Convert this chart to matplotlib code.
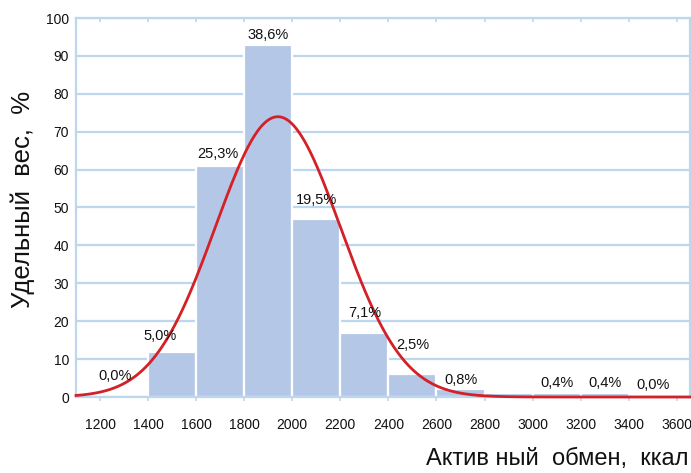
import numpy as np
import matplotlib
matplotlib.use("Agg")
import matplotlib.pyplot as plt

plt.rcParams['font.family'] = ['Liberation Sans', 'DejaVu Sans']

# Histogram of active metabolism (kcal): bin edges and counts per bin
bin_edges = [1200, 1400, 1600, 1800, 2000, 2200, 2400, 2600, 2800, 3000, 3200, 3400, 3600]
counts = [0, 12, 61, 93, 47, 17, 6, 2, 1, 1, 1, 0]
show_label = [True, True, True, True, True, True, True, True, False, True, True, True]
total = 241

# Fitted normal curve parameters
fit_mean = 1940
fit_sd = 260

x_ticks = bin_edges
y_ticks = list(range(0, 101, 10))

# Placement of the percentage labels (y in data units, x nudge in kcal)
label_y = [5.5, 16.0, 64.0, 95.5, 52.0, 22.2, 13.7, 4.5, 0, 3.7, 3.7, 3.2]
label_dx = [-36, -50, -8, 0, 0, 0, 0, 0, 0, 0, 0, 0]

grid_col = '#bdd7ee'
bar_col = '#b4c7e7'
line_col = '#d42027'
text_col = '#111111'

fig = plt.figure(figsize=(6.91, 4.73), dpi=100)
ax = fig.add_axes([76 / 691, 76 / 473, 614 / 691, 379 / 473])

left = np.array(bin_edges[:-1])
width = np.diff(bin_edges)
ax.bar(left, counts, width=width, align='edge', color=bar_col,
       edgecolor='white', linewidth=1.6, zorder=2)

for i, (c, show) in enumerate(zip(counts, show_label)):
    if not show:
        continue
    pct = c / total * 100
    txt = f"{pct:.1f}%".replace('.', ',')
    xc = left[i] + width[i] / 2 + label_dx[i]
    ax.text(xc, label_y[i], txt, ha='center', va='center', fontsize=10.5,
            color=text_col, zorder=4)

xlim = (1100, 3655)
xs = np.linspace(xlim[0], xlim[1], 600)
bw = 200
ys = total * bw / (fit_sd * np.sqrt(2 * np.pi)) * np.exp(-0.5 * ((xs - fit_mean) / fit_sd) ** 2)
ax.plot(xs, ys, color=line_col, linewidth=2.0, zorder=3, clip_on=False)

ax.set_xlim(*xlim)
ax.set_ylim(0, 100)
ax.set_yticks(y_ticks)
ax.set_xticks(x_ticks)
ax.set_xticklabels([str(v) for v in x_ticks])
ax.yaxis.grid(True, color=grid_col, linewidth=1.6, zorder=0)
ax.set_axisbelow(True)

for sp in ax.spines.values():
    sp.set_color(grid_col)
    sp.set_linewidth(1.6)

ax.tick_params(axis='y', length=0, pad=5, labelsize=10, labelcolor=text_col)
ax.tick_params(axis='x', direction='out', length=3, width=1.2, color=grid_col,
               pad=12, labelsize=10, labelcolor=text_col, top=True)
for t in ax.xaxis.get_major_ticks():
    t.tick2line.set_marker(3)  # inward tick at the top edge
    t.tick2line.set_markersize(3)
    t.tick2line.set_color(grid_col)

ax.set_ylabel('Удельный  вес,  %', fontsize=18.5, color=text_col)
ax.yaxis.set_label_coords(-0.067, 0.52)
fig.text(688 / 691, 1 - 459 / 473, 'Актив ный  обмен,  ккал', ha='right', va='center',
         fontsize=17, color=text_col)

fig.savefig('out.png', dpi=100)
